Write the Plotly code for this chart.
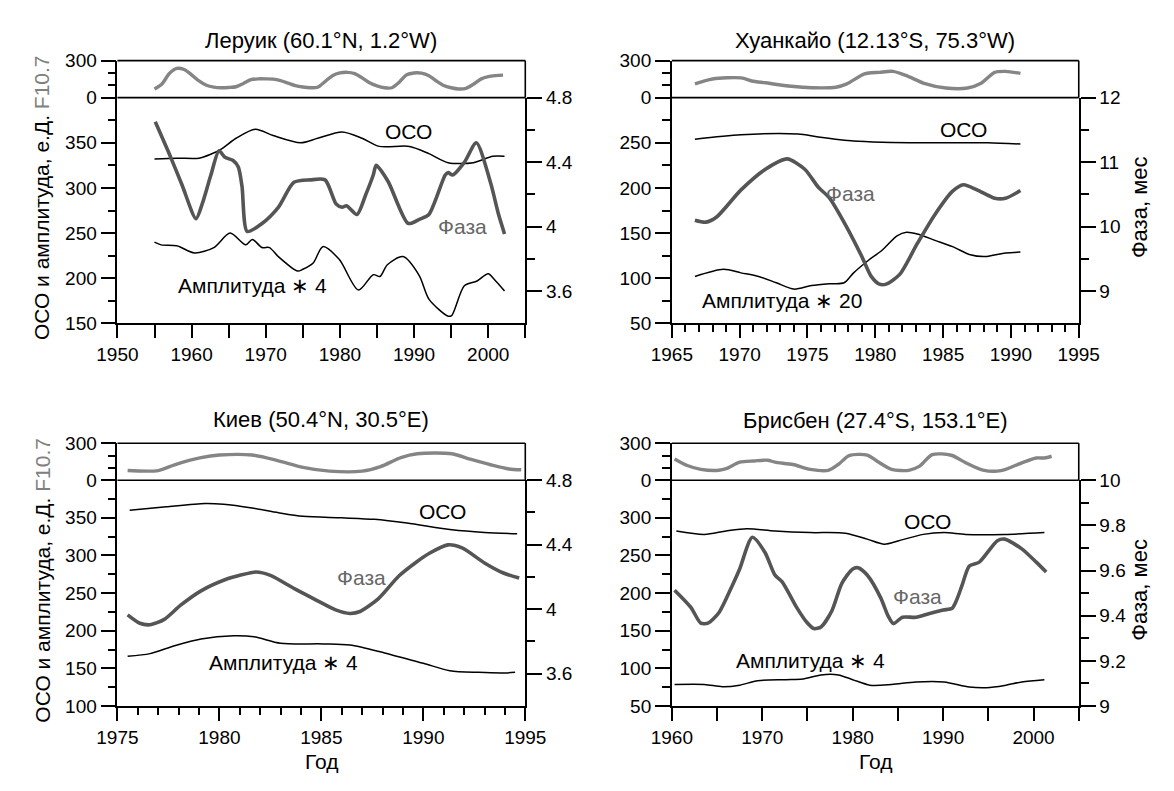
import plotly.graph_objects as go

W, H = 1174, 791

# ---------------- DATA ----------------
# Леруик
ler_f_year = [1955,1956,1957,1958,1959,1960,1961,1962,1963,1964,1965,1966,1967,1968,1969,1970,1971,1972,1973,1974,
              1975,1976,1977,1978,1979,1980,1981,1982,1983,1984,1985,1986,1987,1988,1989,1990,1991,1992,1993,1994,
              1995,1996,1997,1998,1999,2000,2001,2002]
ler_f = [70,110,195,237,228,185,135,100,85,80,82,88,115,145,152,152,150,138,118,98,
         86,80,84,130,178,200,205,195,160,120,95,80,80,125,185,200,198,178,135,98,
         80,70,75,108,150,170,178,182]
ler_o_year = [1955,1958,1961,1962.5,1964,1966,1968.6,1971,1974.7,1977,1980.3,1983,1985.3,1989.4,1992,1994.6,1998,2000.6,2002.2]
ler_o = [332,333,333,337,343,355,365,358,350,355,362,355,346,346,338,328,328,335,335]
ler_p_year = [1955.1,1957,1958.7,1960.6,1961.5,1962.6,1963.7,1964.5,1965.6,1966.3,1966.8,1967.5,1969.5,1971.7,1973.8,
              1976,1978,1979.5,1980.3,1980.9,1982.3,1983.5,1984.5,1984.9,1986.5,1989.2,1990.7,1992,1994.2,1994.6,
              1995.2,1996.8,1998.4,2000.3,2001.4,2002.2]
ler_p = [4.65,4.45,4.26,4.05,4.15,4.32,4.47,4.43,4.41,4.37,4.25,3.97,4.02,4.12,4.275,
         4.29,4.29,4.14,4.12,4.13,4.075,4.2,4.32,4.38,4.28,4.02,4.045,4.075,4.32,4.335,
         4.32,4.4,4.52,4.275,4.075,3.955]
ler_a_year = [1955,1955.9,1958,1960.4,1963,1965.2,1967.3,1968.2,1969.5,1970.5,1971.7,1974.3,1975,1976.4,1977.7,
              1979.9,1982.5,1984.5,1985.4,1986.4,1988.5,1990.7,1992,1994.6,1995.1,1996.8,1998.5,2000,2000.8,2002.2]
ler_a = [240,237,236,228,234,250,237,243,234,234,224,208,210,217,235,
         221,187,204,202,215,224,203,177,158,159,192,197,205,199,186]

# Хуанкайо
hua_f_year = [1966.7,1968,1970.1,1970.9,1971.9,1973.8,1975.3,1977.1,1977.9,1979.2,1980.3,1981.3,1982.3,1983.6,
              1985.2,1986.8,1987.8,1988.8,1989.6,1990.7]
hua_f = [111,151,160,135,120,92,80,84,111,192,205,213,178,116,78,78,116,205,213,197]
hua_o_year = [1966.7,1970.1,1974.3,1975.8,1978.4,1980.5,1984.4,1988.3,1990.7]
hua_o = [254,259,259.7,256.5,252,250.7,250,250,248.6]
hua_p_year = [1966.7,1967.5,1968.3,1970.1,1971.9,1973.5,1974.8,1975.8,1976.6,1977.9,1979,1979.7,1980.3,1980.8,
              1981.8,1983.1,1984.4,1985.7,1986.5,1987.5,1988.8,1989.6,1990.7]
hua_p = [10.10,10.07,10.15,10.57,10.89,11.05,10.89,10.61,10.45,9.99,9.54,9.23,9.11,9.11,
         9.26,9.74,10.19,10.55,10.65,10.57,10.44,10.44,10.56]
hua_a_year = [1966.7,1968.8,1970.1,1971.4,1972.7,1974,1975.3,1976.6,1977.7,1978.4,1979.5,1980.5,1981.6,1982.3,
              1983.1,1984.4,1985.7,1987,1988.1,1989.6,1990.7]
hua_a = [102,110,106,102,95,88,92,94,95,106,120,131,147,151,149,142,135,126,124,128,129]

# Киев
kie_f_year = [1975.5,1977,1977.8,1979.1,1980,1981.6,1982.9,1984.1,1985.4,1987,1987.9,1988.9,1989.7,1991.4,
              1992.3,1993.3,1994.2,1994.8]
kie_f = [78,78,125,183,204,204,157,104,73,73,110,183,214,214,170,125,91,84]
kie_o_year = [1975.6,1977.4,1979.3,1980.2,1981.6,1982.9,1984.1,1986,1987.6,1989.2,1991.4,1993,1994.6]
kie_o = [360,364.7,369,368,363,356.7,352,350,348,343,334,330.5,328.8]
kie_p_year = [1975.5,1976.1,1976.6,1977.3,1978.1,1979.1,1980.3,1981,1981.8,1982.5,1983.7,1984.7,1985.7,1986.4,
              1986.9,1987.8,1988.8,1989.6,1990.3,1991.2,1991.9,1993,1993.9,1994.7]
kie_p = [3.965,3.913,3.904,3.937,4.025,4.114,4.184,4.210,4.231,4.210,4.126,4.060,3.996,3.974,
         3.986,4.066,4.206,4.287,4.347,4.399,4.38,4.287,4.226,4.193]
kie_a_year = [1975.5,1976.6,1977.8,1979.1,1980.7,1981.7,1983,1985.1,1986.4,1988.1,1990,1991.3,1992.7,1994,1994.5]
kie_a = [166,169.6,180,189,193.3,192,183.4,182.5,181,170.5,156.7,147,144.7,144,144.7]

# Брисбен
bri_f_year = [1960.3,1961.7,1963.2,1965.2,1966,1967.5,1969.1,1970.6,1971.4,1973.4,1975.3,1977.3,1978.4,1979.6,
              1981.6,1982.7,1984.3,1986.2,1987.4,1988.8,1990.9,1992.5,1994.4,1996.4,1998.7,2000.3,2001.2,2002]
bri_f = [172,119,88,80,93,146,156,162,146,127,88,80,127,199,204,154,88,80,114,207,202,141,82,77,141,180,180,194]
bri_o_year = [1960.5,1963.6,1966,1968.3,1971.4,1975.3,1979.2,1981.6,1983.5,1985.1,1987.8,1990.1,1992.5,1996.8,2001.2]
bri_o = [282.6,278,282.6,285.6,282.6,280.4,279.6,271.7,265,269.6,278,280.4,278,278,280.4]
bri_p_year = [1960.3,1962.1,1963.2,1964,1965.2,1966.7,1967.5,1968.9,1970.3,1971.4,1972.2,1973.8,1974.9,1975.7,
              1976.5,1977.7,1978.8,1980,1980.6,1981.6,1983.1,1983.9,1984.5,1985.5,1987,1988.5,1990,1991,
              1991.5,1992.1,1992.9,1994,1996,1996.8,1998.7,2000.3,2001.4]
bri_p = [9.513,9.437,9.367,9.367,9.413,9.535,9.607,9.747,9.68,9.58,9.55,9.437,9.372,9.343,
         9.35,9.422,9.543,9.607,9.612,9.58,9.479,9.4,9.365,9.393,9.393,9.41,9.425,9.433,
         9.47,9.535,9.62,9.637,9.732,9.739,9.696,9.637,9.593]
bri_a_year = [1960.3,1963.6,1965.6,1967.5,1969.5,1972.6,1974.5,1976.5,1978.4,1980,1981.9,1984.3,1987,1990.1,
              1992.9,1994.8,1996.8,1998.7,2001.2]
bri_a = [78.6,78.6,75.6,77.7,83.7,85,85.8,91.3,91.3,85,77.7,78.6,82,82,75.2,74.3,77.3,82,85]

panels = [
    dict(title="Леруик (60.1°N, 1.2°W)", xr=[1950, 2005], xt=list(range(1950, 2006, 5)), xl=10, xminor=None,
         lr=[150, 400], lt=[150, 200, 250, 300, 350], lminor=[175, 225, 275, 325, 375],
         rr=[3.4, 4.8], rt=[3.6, 4.0, 4.4, 4.8], rtext=["3.6", "4", "4.4", "4.8"], rminor=[3.8, 4.2, 4.6],
         f=(ler_f_year, ler_f), o=(ler_o_year, ler_o), p=(ler_p_year, ler_p), a=(ler_a_year, ler_a),
         amp="Амплитуда ∗ 4"),
    dict(title="Хуанкайо (12.13°S, 75.3°W)", xr=[1965, 1995], xt=list(range(1965, 1996, 5)), xl=5,
         xminor=[y for y in range(1965, 1996) if y % 5],
         lr=[50, 300], lt=[50, 100, 150, 200, 250], lminor=[75, 125, 175, 225, 275],
         rr=[8.5, 12], rt=[9, 10, 11, 12], rtext=["9", "10", "11", "12"], rminor=[9.5, 10.5, 11.5],
         f=(hua_f_year, hua_f), o=(hua_o_year, hua_o), p=(hua_p_year, hua_p), a=(hua_a_year, hua_a),
         amp="Амплитуда ∗ 20"),
    dict(title="Киев (50.4°N, 30.5°E)", xr=[1975, 1995], xt=list(range(1975, 1996, 5)), xl=5,
         xminor=[y for y in range(1975, 1996) if y % 5],
         lr=[100, 400], lt=[100, 150, 200, 250, 300, 350], lminor=[125, 175, 225, 275, 325, 375],
         rr=[3.4, 4.8], rt=[3.6, 4.0, 4.4, 4.8], rtext=["3.6", "4", "4.4", "4.8"], rminor=[3.8, 4.2, 4.6],
         f=(kie_f_year, kie_f), o=(kie_o_year, kie_o), p=(kie_p_year, kie_p), a=(kie_a_year, kie_a),
         amp="Амплитуда ∗ 4"),
    dict(title="Брисбен (27.4°S, 153.1°E)", xr=[1960, 2005], xt=list(range(1960, 2006, 5)), xl=10, xminor=None,
         lr=[50, 350], lt=[50, 100, 150, 200, 250, 300], lminor=[75, 125, 175, 225, 275, 325],
         rr=[9.0, 10.0], rt=[9.0, 9.2, 9.4, 9.6, 9.8, 10.0], rtext=["9", "9.2", "9.4", "9.6", "9.8", "10"],
         rminor=[9.1, 9.3, 9.5, 9.7, 9.9],
         f=(bri_f_year, bri_f), o=(bri_o_year, bri_o), p=(bri_p_year, bri_p), a=(bri_a_year, bri_a),
         amp="Амплитуда ∗ 4"),
]

# ---------------- LAYOUT (pixels) ----------------
geom = [
    dict(left=100, right=523, ftop=52, mid=90, bot=322, title_y=31,
         oso=(402, 125), faza=(458, 222), ampl=(240, 283), ytitle=True, rtitle=False),
    dict(left=675, right=1097, ftop=52, mid=90, bot=322, title_y=31,
         oso=(977, 123), faza=(860, 188), ampl=(789, 298), ytitle=False, rtitle=True),
    dict(left=100, right=523, ftop=445, mid=483, bot=715, title_y=421,
         oso=(437, 515), faza=(353, 583), ampl=(272, 670), ytitle=True, rtitle=False),
    dict(left=675, right=1097, ftop=445, mid=483, bot=715, title_y=422,
         oso=(940, 525), faza=(930, 602), ampl=(819, 668), ytitle=False, rtitle=True),
]

def PX(x): return x / W
def PY(y): return 1 - y / H

FONT = "Liberation Sans, Arial, sans-serif"
TICKF = dict(family=FONT, size=19, color="black")
F_COLOR = "#858585"
P_COLOR = "#555555"

fig = go.Figure()
layout = dict(width=W, height=H, margin=dict(l=0, r=0, t=0, b=0),
              paper_bgcolor="white", plot_bgcolor="rgba(0,0,0,0)", showlegend=False,
              font=dict(family=FONT, size=19, color="black"))
shapes = []
annotations = []

def note(text, x, y, size, color="black", angle=0):
    annotations.append(dict(text=text, x=PX(x), y=PY(y), xref="paper", yref="paper",
                            xanchor="center", yanchor="middle", showarrow=False, textangle=angle,
                            font=dict(size=size, color=color, family=FONT)))

for i, (p, g) in enumerate(zip(panels, geom)):
    k = i + 1
    xn = "x" if k == 1 else f"x{k}"
    fi, mi, ri = 3 * i + 1, 3 * i + 2, 3 * i + 3
    yf = "y" if fi == 1 else f"y{fi}"
    ym = f"y{mi}"
    yr = f"y{ri}"

    ax_common = dict(showgrid=False, zeroline=False, showline=True, linecolor="black", linewidth=1.6,
                     ticks="outside", tickwidth=1.6, tickcolor="black", tickfont=TICKF)

    xtext = [str(v) if (v - p["xr"][0]) % p["xl"] == 0 else "" for v in p["xt"]]
    xa = dict(ax_common, domain=[PX(g["left"]), PX(g["right"])], range=p["xr"], anchor=ym,
              tickmode="array", tickvals=p["xt"], ticktext=xtext, ticklen=13)
    if p["xminor"]:
        xa["minor"] = dict(tickmode="array", tickvals=p["xminor"], ticklen=7, ticks="outside",
                           tickwidth=1.6, tickcolor="black", showgrid=False)
    layout["xaxis" if k == 1 else f"xaxis{k}"] = xa

    layout["yaxis" if fi == 1 else f"yaxis{fi}"] = dict(
        ax_common, domain=[PY(g["mid"]), PY(g["ftop"])], range=[0, 300], anchor=xn,
        tickmode="array", tickvals=[0, 300], ticktext=["0", "300"], ticklen=15,
        minor=dict(tickmode="array", tickvals=[100, 200], ticklen=8, ticks="outside",
                   tickwidth=1.6, tickcolor="black", showgrid=False))
    layout[f"yaxis{mi}"] = dict(
        ax_common, domain=[PY(g["bot"]), PY(g["mid"])], range=p["lr"], anchor=xn,
        tickmode="array", tickvals=p["lt"], ticktext=[str(v) for v in p["lt"]], ticklen=15,
        minor=dict(tickmode="array", tickvals=p["lminor"], ticklen=8, ticks="outside",
                   tickwidth=1.6, tickcolor="black", showgrid=False))
    layout[f"yaxis{ri}"] = dict(
        ax_common, overlaying=ym, side="right", range=p["rr"], anchor=xn,
        tickmode="array", tickvals=p["rt"], ticktext=p["rtext"], ticklen=15,
        minor=dict(tickmode="array", tickvals=p["rminor"], ticklen=8, ticks="outside",
                   tickwidth=1.6, tickcolor="black", showgrid=False))

    fx, fy = p["f"]
    fig.add_trace(go.Scatter(x=fx, y=fy, xaxis=xn, yaxis=yf, mode="lines",
                             line=dict(color=F_COLOR, width=3.4, shape="spline", smoothing=0.8)))
    ox, oy = p["o"]
    fig.add_trace(go.Scatter(x=ox, y=oy, xaxis=xn, yaxis=ym, mode="lines",
                             line=dict(color="black", width=1.5, shape="spline", smoothing=0.8)))
    ax_, ay_ = p["a"]
    fig.add_trace(go.Scatter(x=ax_, y=ay_, xaxis=xn, yaxis=ym, mode="lines",
                             line=dict(color="black", width=1.5, shape="spline", smoothing=0.8)))
    px_, py_ = p["p"]
    fig.add_trace(go.Scatter(x=px_, y=py_, xaxis=xn, yaxis=yr, mode="lines",
                             line=dict(color=P_COLOR, width=3.6, shape="spline", smoothing=0.7)))

    L, R = PX(g["left"]), PX(g["right"])
    for (x0, y0, x1, y1) in [(L, PY(g["ftop"]), R, PY(g["ftop"])),
                             (L, PY(g["mid"]), R, PY(g["mid"])),
                             (R, PY(g["ftop"]), R, PY(g["mid"]))]:
        shapes.append(dict(type="line", xref="paper", yref="paper", x0=x0, y0=y0, x1=x1, y1=y1,
                           line=dict(color="black", width=1.6)))

    cx = (g["left"] + g["right"]) / 2
    note(p["title"], cx, g["title_y"], 22)
    note("ОСО", g["oso"][0], g["oso"][1], 21)
    note("Фаза", g["faza"][0], g["faza"][1], 21, "#666666")
    note(p["amp"], g["ampl"][0], g["ampl"][1], 21)
    if g["ytitle"]:
        note('ОСО и амплитуда, е.Д. <span style="color:#808080">F10.7</span>',
             22, (g["ftop"] + g["bot"]) / 2 + 6, 21, angle=-90)
    if g["rtitle"]:
        note("Фаза, мес", 1160, (g["mid"] + g["bot"]) / 2 - 3, 22, angle=-90)
    if i >= 2:
        note("Год", cx, 772, 21)

layout["shapes"] = shapes
layout["annotations"] = annotations
fig.update_layout(**layout)
fig.write_html("out.html")
